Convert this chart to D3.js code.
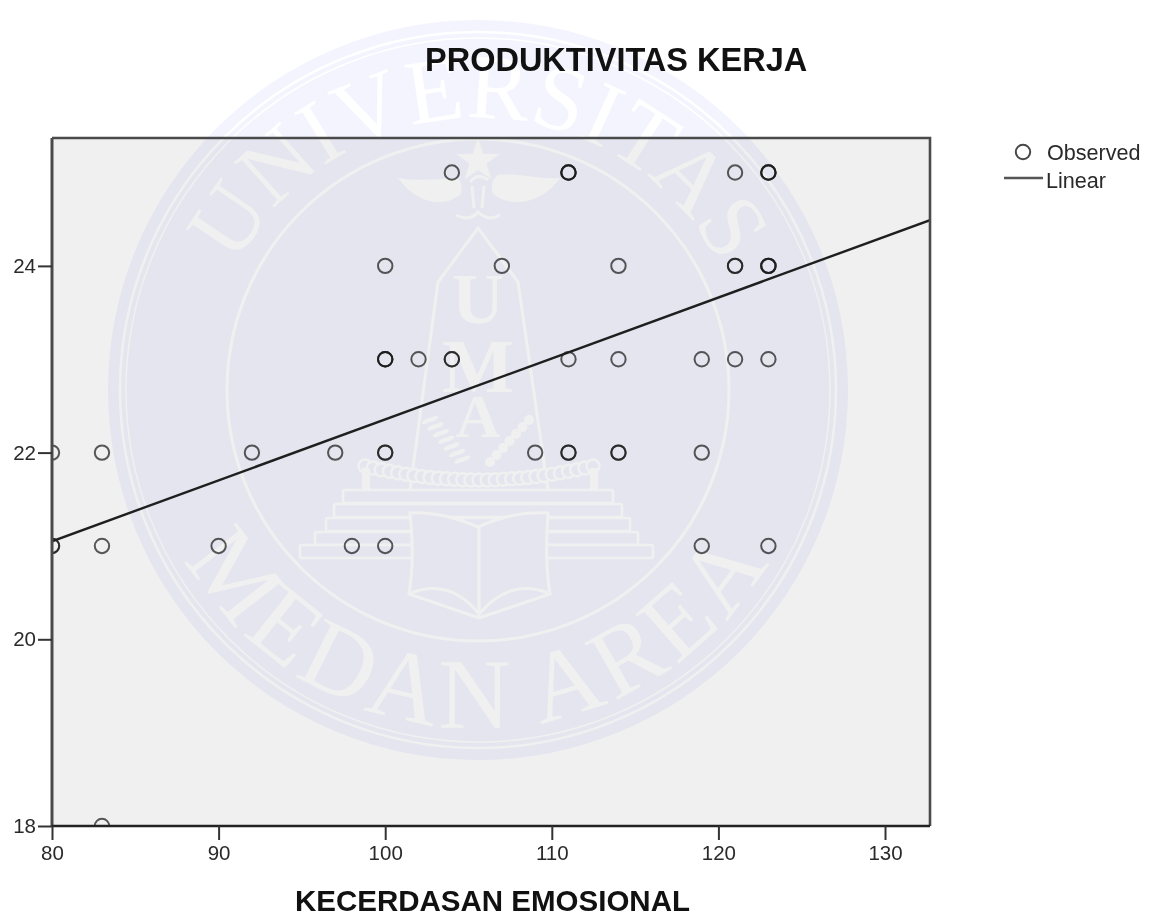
<!DOCTYPE html>
<html><head><meta charset="utf-8">
<script src="https://cdn.jsdelivr.net/npm/d3@7/dist/d3.min.js"></script>
<style>
html,body{margin:0;padding:0;background:#fff}
svg{display:block;font-family:"Liberation Sans",Arial,sans-serif;filter:blur(0.45px)}
</style></head><body>
<svg id="c" width="1160" height="917"></svg>
<script>
const chartTitle = "PRODUKTIVITAS KERJA";
const xTitle = "KECERDASAN EMOSIONAL";
const xTicks = [80, 90, 100, 110, 120, 130];
const yTicks = [18, 20, 22, 24];
const xDomain = [80, 132.7];
const yDomain = [18, 25.37];
const obsX = [104,111,111,111,121,123,123,123,
              100,107,114,121,121,123,123,123,
              100,100,100,102,104,104,111,114,119,121,123,
              80,83,92,97,100,100,109,111,111,114,114,119,
              80,80,83,90,98,100,119,123,
              83];
const obsY = [25,25,25,25,25,25,25,25,
              24,24,24,24,24,24,24,24,
              23,23,23,23,23,23,23,23,23,23,23,
              22,22,22,22,22,22,22,22,22,22,22,22,
              21,21,21,21,21,21,21,21,
              18];
const fitX = [80, 132.7];
const fitY = [21.05, 24.49];
const legendLabels = ["Observed", "Linear"];
const sealTop = "UNIVERSITAS", sealBottom = "MEDAN AREA", sealMid = ["U","M","A"];

const svg = d3.select("#c");
const W = 1160, H = 917;
const m = {l:52, r:930, t:138, b:826};
const x = d3.scaleLinear().domain(xDomain).range([m.l, m.r]);
const y = d3.scaleLinear().domain(yDomain).range([m.b, m.t]);

svg.append("rect").attr("width",W).attr("height",H).attr("fill","#fff");

// watermark seal
const tint = "#f4f4ff", hole = "#fff";
const cx = 478, cy = 390;
const s = svg.append("g").attr("class","seal");
s.append("circle").attr("cx",cx).attr("cy",cy).attr("r",370).attr("fill",tint);
[[358,2.5],[352,1.5],[251,3]].forEach(([r,w])=>
  s.append("circle").attr("cx",cx).attr("cy",cy).attr("r",r).attr("fill","none").attr("stroke",hole).attr("stroke-width",w));
const defs = svg.append("defs");
defs.append("path").attr("id","arcTop").attr("d",`M${cx-272},${cy} A272,272 0 0 1 ${cx+272},${cy}`);
defs.append("path").attr("id","arcBot").attr("d",`M${cx-338},${cy} A338,338 0 0 0 ${cx+338},${cy}`);
const serif = '"Liberation Serif","DejaVu Serif",serif';
s.append("text").attr("font-family",serif).attr("font-size",92).attr("fill",hole).attr("text-anchor","middle")
 .append("textPath").attr("href","#arcTop").attr("startOffset","50%").text(sealTop);
s.append("text").attr("font-family",serif).attr("font-size",100).attr("letter-spacing",5).attr("fill",hole).attr("text-anchor","middle")
 .append("textPath").attr("href","#arcBot").attr("startOffset","50%").text(sealBottom);
// star
const star = d3.range(10).map(i=>{const a=i*Math.PI/5-Math.PI/2,r=i%2?9:23;return [cx+r*Math.cos(a),161+r*Math.sin(a)];});
s.append("polygon").attr("points",star.join(" ")).attr("fill",hole);
// wings, body
s.append("path").attr("fill",hole).attr("d",`M398,178 C420,182 445,178 458,178 C464,186 462,196 458,196 C445,206 418,206 398,178Z`);
s.append("path").attr("fill",hole).attr("d",`M560,178 C540,180 515,172 498,175 C490,180 490,194 496,196 C510,206 540,206 560,178Z`);
s.append("path").attr("fill","none").attr("stroke",hole).attr("stroke-width",3)
 .attr("d",`M470,182 Q478,172 488,180 M472,186 L474,208 M484,186 L482,208 M456,215 Q470,222 478,212 Q488,222 500,215`);
// monument
s.append("path").attr("fill","none").attr("stroke",hole).attr("stroke-width",3)
 .attr("d",`M410,490 L438,282 L478,228 L518,282 L548,490`);
[[sealMid[0],323,72],[sealMid[1],392,76],[sealMid[2],437,62]].forEach(([t,by,fs])=>
  s.append("text").attr("x",cx).attr("y",by).attr("text-anchor","middle").attr("font-family",serif)
   .attr("font-weight","bold").attr("font-size",fs).attr("fill",hole).text(t));
// laurel and beads
d3.range(7).forEach(i=>{
  const lx=430+i*5.4, ly=420+i*6.6;
  s.append("ellipse").attr("cx",lx-3).attr("cy",ly+1).attr("rx",5.5).attr("ry",2.2)
   .attr("transform",`rotate(-25 ${lx-3} ${ly+1})`).attr("fill",hole);
  s.append("ellipse").attr("cx",lx+3).attr("cy",ly-1).attr("rx",5.5).attr("ry",2.2)
   .attr("transform",`rotate(-25 ${lx+3} ${ly-1})`).attr("fill",hole);
  s.append("circle").attr("cx",529-i*6.5).attr("cy",420+i*7).attr("r",5).attr("fill",hole);
});
d3.range(29).forEach(i=>{
  const t=i/28, bx=365+t*228, by=466+14*(1-Math.pow(2*t-1,2));
  s.append("circle").attr("cx",bx).attr("cy",by).attr("r",6.5).attr("fill",tint).attr("stroke",hole).attr("stroke-width",2.5);
});
s.append("rect").attr("x",362).attr("y",468).attr("width",8).attr("height",22).attr("fill",hole);
s.append("rect").attr("x",590).attr("y",468).attr("width",8).attr("height",22).attr("fill",hole);
// steps
[[343,490,270,13],[334,504,288,13],[326,518,304,13],[315,532,323,13],[300,545,353,13]].forEach(([a,b,w,h])=>
  s.append("rect").attr("x",a).attr("y",b).attr("width",w).attr("height",h).attr("rx",1.5).attr("fill",tint).attr("stroke",hole).attr("stroke-width",2.5));
// book
s.append("path").attr("fill",tint).attr("stroke",hole).attr("stroke-width",3)
 .attr("d",`M410,513 C430,512 450,515 478,527 C505,515 525,512 548,513 C546,540 546,570 550,594 L479,618 L409,594 C413,570 413,540 410,513Z`);
s.append("path").attr("fill","none").attr("stroke",hole).attr("stroke-width",3)
 .attr("d",`M479,527 L479,618 M411,593 Q450,578 479,614 Q510,578 548,593`);

// panel (multiplied over the seal)
svg.append("rect").attr("x",m.l).attr("y",m.t).attr("width",m.r-m.l).attr("height",m.b-m.t)
   .attr("fill","#f0f0f0").style("mix-blend-mode","multiply");

svg.append("clipPath").attr("id","pc").append("rect")
   .attr("x",m.l).attr("y",m.t).attr("width",m.r-m.l).attr("height",m.b-m.t);

const plot = svg.append("g").attr("clip-path","url(#pc)");
plot.selectAll("circle").data(obsX).join("circle")
  .attr("cx",d=>x(d)).attr("cy",(d,i)=>y(obsY[i])).attr("r",7.2)
  .attr("fill","none").attr("stroke","#1a1a1a").attr("stroke-opacity",0.72).attr("stroke-width",2);
plot.append("path").datum(fitX)
  .attr("d",d3.line().x(d=>x(d)).y((d,i)=>y(fitY[i])))
  .attr("fill","none").attr("stroke","#1f1f1f").attr("stroke-width",2.4);

// frame
const frame = svg.append("g").attr("fill","none").attr("stroke","#4a4a4a");
frame.append("path").attr("d",`M${m.l},${m.t} H${m.r} V${m.b}`).attr("stroke-width",2.6);
frame.append("path").attr("d",`M${m.l},${m.t} V${m.b}`).attr("stroke-width",3);
frame.append("path").attr("d",`M${m.l},${m.b} H${m.r}`).attr("stroke","#222").attr("stroke-width",2.4);

const fs = 20.5;
const gx = svg.append("g").attr("transform",`translate(0,${m.b})`)
  .call(d3.axisBottom(x).tickValues(xTicks).tickSize(14).tickPadding(5).tickFormat(d3.format("d")));
const gy = svg.append("g").attr("transform",`translate(${m.l},0)`)
  .call(d3.axisLeft(y).tickValues(yTicks).tickSize(14).tickPadding(2).tickFormat(d3.format("d")));
[gx,gy].forEach(g=>{
  g.select(".domain").remove();
  g.selectAll("line").attr("stroke","#333").attr("stroke-width",2);
  g.selectAll("text").attr("font-size",fs).attr("font-family",'"Liberation Sans",Arial,sans-serif').attr("fill","#2a2a2a");
});

svg.append("text").attr("x",425).attr("y",71).attr("font-size",32.5).attr("font-weight","bold").attr("fill","#111").text(chartTitle);
svg.append("text").attr("x",295).attr("y",911).attr("font-size",29.5).attr("font-weight","bold").attr("fill","#111").text(xTitle);

// legend
svg.append("circle").attr("cx",1023).attr("cy",152).attr("r",7.2).attr("fill","none").attr("stroke","#1a1a1a").attr("stroke-opacity",0.8).attr("stroke-width",2);
svg.append("line").attr("x1",1004).attr("x2",1043).attr("y1",178).attr("y2",178).attr("stroke","#555").attr("stroke-width",2.6);
svg.append("text").attr("x",1047).attr("y",160).attr("font-size",21.6).attr("fill","#2a2a2a").text(legendLabels[0]);
svg.append("text").attr("x",1046).attr("y",188).attr("font-size",21.6).attr("fill","#2a2a2a").text(legendLabels[1]);
</script></body></html>
